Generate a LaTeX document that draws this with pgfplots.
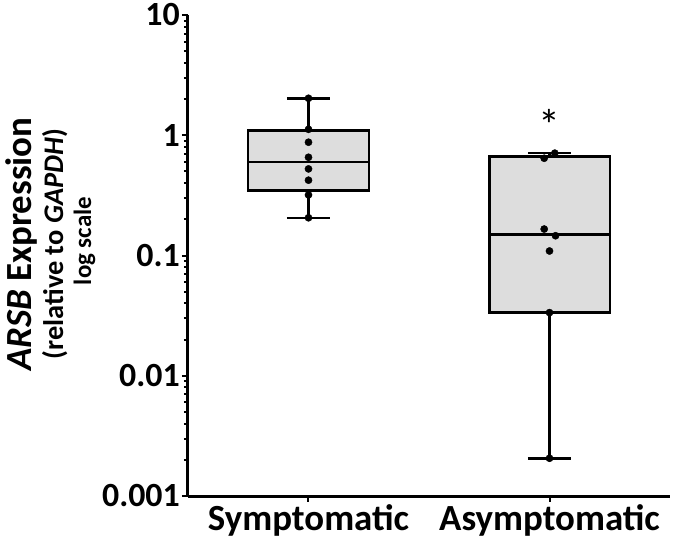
\documentclass[border=0pt]{standalone}
\usepackage{fontspec}
\setmainfont{Carlito}
\usepackage{pgfplots}
\pgfplotsset{compat=1.18}
\usepgfplotslibrary{statistics}
\usetikzlibrary{calc}
\definecolor{boxgray}{RGB}{221,221,221}
\begin{document}
\begin{tikzpicture}
\begin{axis}[
  name=ax,
  scale only axis, width=482bp, height=481bp,
  ymode=log, ymin=0.001, ymax=10,
  xmin=0.5, xmax=2.5,
  clip=false,
  axis lines=left,
  axis line style={-, line width=3bp},
  boxplot/draw direction=y,
  xtick={1,2}, xticklabels={Symptomatic,Asymptomatic},
  ytick={0.001,0.01,0.1,1,10}, yticklabels={0.001,0.01,0.1,1,10},
  minor ytick={0.002,0.003,0.004,0.005,0.006,0.007,0.008,0.009,
               0.02,0.03,0.04,0.05,0.06,0.07,0.08,0.09,
               0.2,0.3,0.4,0.5,0.6,0.7,0.8,0.9,
               2,3,4,5,6,7,8,9},
  tick align=outside,
  major tick length=6bp, minor tick length=4bp,
  every tick/.style={black, line width=2bp},
  /pgf/number format/assume math mode=true,
  yticklabel style={font=\fontsize{34}{36}\selectfont\bfseries, inner sep=2bp},
  xticklabel style={font=\fontsize{37}{39}\selectfont\bfseries, inner sep=2bp},
]
\addplot[boxplot prepared={draw position=1, lower whisker=0.206, lower quartile=0.347,
   median=0.597, upper quartile=1.09, upper whisker=2.03, box extend=0.5, whisker extend=0.18},
   draw=black, fill=boxgray, line width=2.5bp] coordinates {};
\addplot[boxplot prepared={draw position=2, lower whisker=0.00206, lower quartile=0.0335,
   median=0.15, upper quartile=0.664, upper whisker=0.71, box extend=0.5, whisker extend=0.18},
   draw=black, fill=boxgray, line width=2.5bp] coordinates {};
\addplot[only marks, mark=*, mark size=3.6bp, black] coordinates {
  (1,2.03) (1,1.12) (1,0.875) (1,0.656) (1,0.525) (1,0.423) (1,0.319) (1,0.206)
};
\addplot[only marks, mark=*, mark size=3.6bp, black] coordinates {
  (2.022,0.71) (1.978,0.644) (1.978,0.166) (2.025,0.146) (2.0,0.109) (2.0,0.0335) (2.0,0.00206)
};
\node[font=\fontsize{44}{44}\selectfont, inner sep=0pt] at (axis cs:2,1.22) {*};
\node[rotate=90, anchor=base, inner sep=0pt, font=\fontsize{37}{39}\selectfont\bfseries]
  at (axis description cs:-0.324,0.524) {\textit{ARSB} Expression};
\node[rotate=90, anchor=base, inner sep=0pt, font=\fontsize{28.5}{30}\selectfont\bfseries]
  at (axis description cs:-0.259,0.524) {(relative to \textit{GAPDH})};
\node[rotate=90, anchor=base, inner sep=0pt, font=\fontsize{25}{27}\selectfont\bfseries]
  at (axis description cs:-0.201,0.530) {log scale};
\end{axis}
\pgfresetboundingbox
\path[use as bounding box] ($(ax.south west)+(-188bp,-58bp)$) rectangle ($(ax.north east)+(5bp,15bp)$);
\end{tikzpicture}
\end{document}
